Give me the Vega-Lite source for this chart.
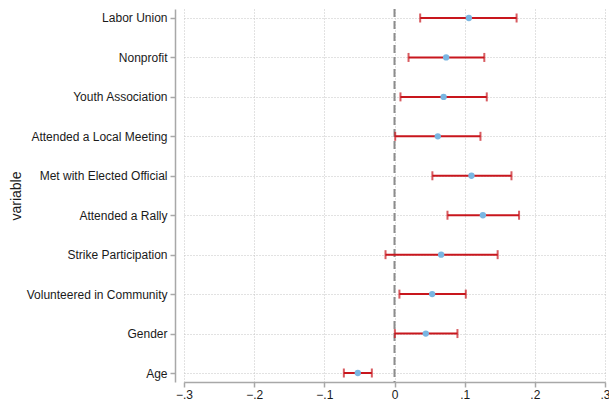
{
  "$schema": "https://vega.github.io/schema/vega-lite/v6.json",
  "width": 421,
  "height": 373,
  "autosize": {"type": "none"},
  "padding": {"left": 184, "top": 9, "right": 4, "bottom": 19},
  "background": "white",
  "config": {
    "view": {"stroke": null},
    "font": "Liberation Sans",
    "axis": {
      "labelFont": "Liberation Sans",
      "titleFont": "Liberation Sans",
      "labelFontSize": 12,
      "labelColor": "#1a1a1a",
      "titleColor": "#1a1a1a",
      "domainColor": "#a8a8a8",
      "domainWidth": 1.5,
      "tickColor": "#a8a8a8",
      "tickWidth": 1.5,
      "tickSize": 5,
      "gridColor": "#c4c4c4",
      "gridDash": [1, 2],
      "gridWidth": 1
    }
  },
  "data": {
    "values": [
      {"variable": "Labor Union", "coef": 0.106, "lo": 0.0366, "hi": 0.174},
      {"variable": "Nonprofit", "coef": 0.0736, "lo": 0.020, "hi": 0.128},
      {"variable": "Youth Association", "coef": 0.070, "lo": 0.0085, "hi": 0.1315},
      {"variable": "Attended a Local Meeting", "coef": 0.0617, "lo": 0.001, "hi": 0.1225},
      {"variable": "Met with Elected Official", "coef": 0.1097, "lo": 0.054, "hi": 0.1667},
      {"variable": "Attended a Rally", "coef": 0.126, "lo": 0.0755, "hi": 0.1775},
      {"variable": "Strike Participation", "coef": 0.0665, "lo": -0.0128, "hi": 0.147},
      {"variable": "Volunteered in Community", "coef": 0.0537, "lo": 0.007, "hi": 0.1016},
      {"variable": "Gender", "coef": 0.0446, "lo": 0.0005, "hi": 0.0897},
      {"variable": "Age", "coef": -0.0523, "lo": -0.0722, "hi": -0.0323}
    ]
  },
  "encoding": {
    "y": {
      "field": "variable",
      "type": "nominal",
      "sort": null,
      "scale": {"type": "point", "padding": 0.228},
      "axis": {
        "title": "variable",
        "titleFontSize": 14,
        "titleFontWeight": "normal",
        "titlePadding": 3,
        "offset": 9,
        "labelPadding": 3,
        "grid": true
      }
    }
  },
  "layer": [
    {
      "mark": {"type": "rule", "color": "#8c8c8c", "strokeWidth": 2, "strokeDash": [8, 4]},
      "data": {"values": [{"ref": 0}]},
      "encoding": {
        "x": {"field": "ref", "type": "quantitative"},
        "y": null
      }
    },
    {
      "mark": {"type": "rule", "color": "#c8161d", "strokeWidth": 2},
      "encoding": {
        "x": {
          "field": "lo",
          "type": "quantitative",
          "scale": {"domain": [-0.3, 0.3], "nice": false, "zero": false},
          "axis": {
            "title": null,
            "values": [-0.3, -0.2, -0.1, 0, 0.1, 0.2, 0.3],
            "labelExpr": "datum.value == 0 ? '0' : replace(format(datum.value, '.1f'), '0.', '.')",
            "labelPadding": 2,
            "grid": true,
            "labelFlush": false
          }
        },
        "x2": {"field": "hi"}
      }
    },
    {
      "mark": {"type": "tick", "color": "#c8161d", "thickness": 2, "size": 9, "orient": "vertical"},
      "encoding": {"x": {"field": "lo", "type": "quantitative"}}
    },
    {
      "mark": {"type": "tick", "color": "#c8161d", "thickness": 2, "size": 9, "orient": "vertical"},
      "encoding": {"x": {"field": "hi", "type": "quantitative"}}
    },
    {
      "mark": {"type": "point", "filled": true, "color": "#7ab6e2", "opacity": 1, "size": 40},
      "encoding": {"x": {"field": "coef", "type": "quantitative"}}
    }
  ]
}
